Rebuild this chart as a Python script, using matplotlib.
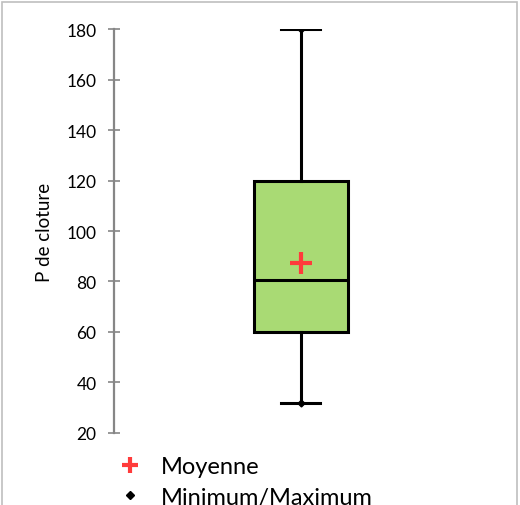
import matplotlib

matplotlib.use("Agg")
import matplotlib.pyplot as plt
import matplotlib.patches as patches
from matplotlib.lines import Line2D

plt.rcParams["font.family"] = ["Lato", "DejaVu Sans"]

# box-plot summary values
stat_names = ["whislo", "q1", "med", "q3", "whishi", "mean"]
stat_values = [32, 60, 80.5, 120, 180, 87.5]
y_ticks = [20, 40, 60, 80, 100, 120, 140, 160, 180]
y_label = "P de cloture"
legend_labels = ["Moyenne", "Minimum/Maximum"]

BOX_GREEN = "#A9DA74"
MEAN_RED = "#FF3B3B"
AXIS_GREY = "#868686"

fig = plt.figure(figsize=(5.2, 5.06), dpi=100)
ax = fig.add_axes([0.219, 0.1423, 0.719, 0.7984])

stats = dict(zip(stat_names, stat_values))
stats["fliers"] = []
ax.bxp([stats], positions=[1], widths=0.25, patch_artist=True, showmeans=True,
       boxprops=dict(facecolor=BOX_GREEN, edgecolor="black", linewidth=2.2),
       medianprops=dict(color="black", linewidth=2.2),
       whiskerprops=dict(color="black", linewidth=2.2),
       capprops=dict(color="black", linewidth=2.2),
       capwidths=0.105,
       meanprops=dict(marker="+", markeredgecolor=MEAN_RED, markersize=16, markeredgewidth=3))
# min / max markers
ax.plot([1, 1], [stats["whislo"], stats["whishi"]], linestyle="none", marker="D",
        color="black", markersize=3.5)

ax.set_xlim(0.5, 1.5)
ax.set_ylim(y_ticks[0], y_ticks[-1])
ax.set_yticks(y_ticks)
ax.set_xticks([])
ax.tick_params(axis="y", direction="inout", length=9, width=1.2, color=AXIS_GREY,
               labelsize=12.5, pad=8)
for side in ["top", "right", "bottom"]:
    ax.spines[side].set_visible(False)
ax.spines["left"].set_color(AXIS_GREY)
ax.spines["left"].set_linewidth(1.6)
ax.set_ylabel(y_label, fontsize=13.5, labelpad=10)

handles = [
    Line2D([], [], linestyle="none", marker="+", markeredgecolor=MEAN_RED, markersize=11, markeredgewidth=3),
    Line2D([], [], linestyle="none", marker="D", color="black", markersize=4),
]
fig.legend(handles, legend_labels, loc="upper left", bbox_to_anchor=(0.21, 0.115), frameon=False,
           fontsize=17, handlelength=1.0, handletextpad=0.8, labelspacing=0.4, borderaxespad=0)

fig.add_artist(patches.Rectangle((0.004, -0.1), 0.99, 1.095, transform=fig.transFigure,
                                 fill=False, edgecolor="#BFBFBF", linewidth=1.2))

fig.savefig("out.png", dpi=100, facecolor="white")
